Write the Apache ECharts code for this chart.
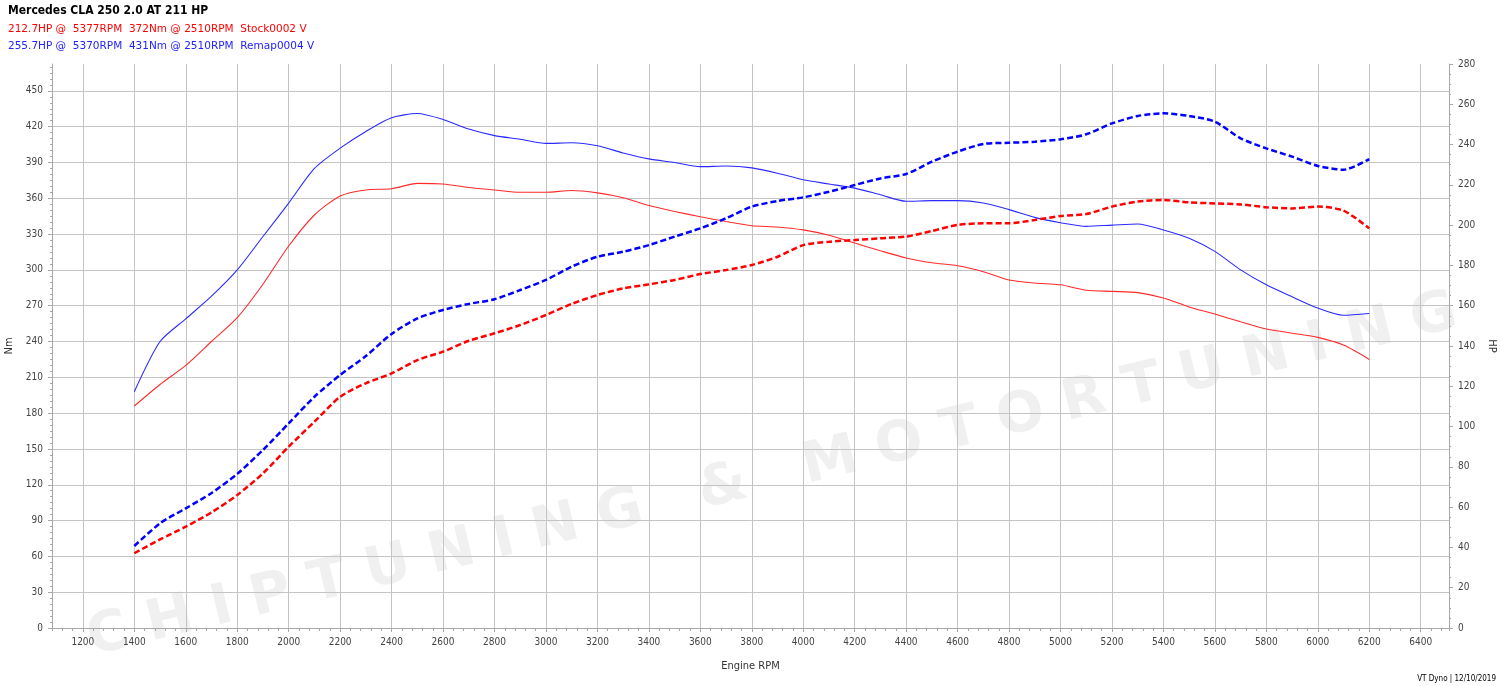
<!DOCTYPE html>
<html>
<head>
<meta charset="utf-8">
<script src="https://cdn.jsdelivr.net/npm/echarts@6/dist/echarts.min.js"></script>
<style>
html,body{margin:0;padding:0;background:#fff;}
#chart{width:1500px;height:686px;}
</style>
</head>
<body>
<div id="chart"></div>
<script>
const rpm = [1400,1500,1600,1700,1800,1900,2000,2100,2200,2300,2400,2500,2600,2700,2800,2900,3000,3100,3200,3300,3400,3500,3600,3700,3800,3900,4000,4100,4200,4300,4400,4500,4600,4700,4800,4900,5000,5100,5200,5300,5400,5500,5600,5700,5800,5900,6000,6100,6200];

const stockTorque = [186,204,220,240,260,288,320,346,362,367,368,372.5,372,369,367,365,365,366.5,364.5,360.5,354,349,344.5,340.5,337,336,333.5,329,322.5,316,310,306,303.5,298.5,291.5,289,287.5,283,282,281,276.5,269,263,256.5,250.5,247,243.5,237,225];

const remapTorque = [198,240,259,278,300,328,356,385,402,416,427.5,431,426,418,412.5,409.5,406,406.5,404,398,393,390,386.5,387,385.5,381,375.5,372,368.5,363,357.5,358,358,356,350.5,344,339.5,336.5,337.5,338.5,333.5,326.5,315.5,300,287.5,277.5,268,262,263.5];

const stockPower = [37.1,44,50.3,57.4,66,76.8,90,102.4,114.8,121.5,126.4,133,137.2,142.6,146.3,150.4,155.4,160.9,165.3,168.6,170.6,172.8,175.7,177.7,180.2,184.3,190.1,191.8,192.6,193.5,194.3,197.1,200.1,200.9,200.9,202.6,204.5,205.5,209.2,211.7,212.5,211.3,210.8,210.3,208.9,208.3,209.2,207.2,198.4];

const remapPower = [40.7,52,59.4,67,76.5,88.4,101.6,114.8,125.6,135,146,153.7,157.9,160.9,163.2,167.8,172.8,179.4,184.3,186.8,190.1,194.3,198.4,203.4,209.2,212,213.8,216.6,219.9,223.2,225.4,231.5,236.5,240.3,240.9,241.4,242.6,245.1,250.5,254.2,255.5,254.2,251.4,243.1,238.1,234,229.4,227.5,232.8];

const rpmTicks = [1200,1400,1600,1800,2000,2200,2400,2600,2800,3000,3200,3400,3600,3800,4000,4200,4400,4600,4800,5000,5200,5400,5600,5800,6000,6200,6400];
const nmTicks = [0,30,60,90,120,150,180,210,240,270,300,330,360,390,420,450];

const titleText = 'Mercedes CLA 250 2.0 AT 211 HP';
const stockText = '212.7HP @  5377RPM  372Nm @ 2510RPM  Stock0002 V';
const remapText = '255.7HP @  5370RPM  431Nm @ 2510RPM  Remap0004 V';
const footerText = 'VT Dyno | 12/10/2019';
const watermarkText = 'C H I P T U N I N G   &   M O T O R T U N I N G';

const RED = '#ff0000';
const BLUE = '#0000ff';
const tickFont = "'DejaVu Sans Condensed','DejaVu Sans',sans-serif";

function pairs(xs, ys){ return xs.map((x,i)=>[x, ys[i]]); }

const chart = echarts.init(document.getElementById('chart'), null, {renderer:'canvas'});
const axisGray = '#a8a8a8';
const gridGray = '#c4c4c4';

chart.setOption({
  backgroundColor:'#ffffff',
  animation:false,
  grid:{left:52, right:51, top:64, bottom:58, containLabel:false, outerBoundsMode:'none'},
  graphic:[
    {type:'text', z:-10, x:95, y:668, rotation:0.236, style:{text:watermarkText, font:"bold 56px 'DejaVu Sans'", fill:'#f0f0f0', textVerticalAlign:'bottom'}},
    {type:'text', left:8, top:5, style:{text:titleText, font:"bold 12px 'DejaVu Sans Condensed','DejaVu Sans'", fill:'#000'}},
    {type:'text', left:8, top:24, style:{text:stockText, font:"10.5px 'DejaVu Sans'", fill:RED}},
    {type:'text', left:8, top:41, style:{text:remapText, font:"10.5px 'DejaVu Sans'", fill:'#2222ff'}},
    {type:'text', right:4, bottom:3, style:{text:footerText, font:"8px 'DejaVu Sans Condensed','DejaVu Sans'", fill:'#000'}}
  ],
  xAxis:[
    {type:'value', min:1080, max:6510, interval:40,
     axisLine:{show:true, lineStyle:{color:axisGray}},
     axisTick:{show:true, length:3, lineStyle:{color:axisGray}},
     axisLabel:{show:false}, splitLine:{show:false}},
    {type:'value', min:1080, max:6510, position:'bottom',
     name:'Engine RPM', nameLocation:'middle', nameGap:33,
     nameTextStyle:{fontFamily:tickFont, fontSize:11, color:'#333'},
     axisLine:{show:false},
     axisTick:{show:true, length:4, customValues:rpmTicks, lineStyle:{color:axisGray}},
     axisLabel:{show:true, customValues:rpmTicks, formatter:(v)=>String(v), fontFamily:tickFont, fontSize:10, color:'#444', margin:9},
     splitLine:{show:true, lineStyle:{color:gridGray, width:1}}}
  ],
  yAxis:[
    {type:'value', min:0, max:472.5, interval:30, position:'left',
     name:'Nm', nameLocation:'middle', nameRotate:90, nameGap:34,
     nameTextStyle:{fontFamily:tickFont, fontSize:11, color:'#333'},
     axisLine:{show:true, lineStyle:{color:axisGray}},
     axisTick:{show:true, length:4, customValues:nmTicks, lineStyle:{color:axisGray}},
     minorTick:{show:true, splitNumber:6, length:2, lineStyle:{color:axisGray}},
     axisLabel:{customValues:nmTicks, formatter:(v)=>String(v), fontFamily:tickFont, fontSize:10, color:'#444', margin:9},
     splitLine:{show:true, lineStyle:{color:gridGray, width:1}}},
    {type:'value', min:0, max:280, interval:20, position:'right',
     name:'HP', nameLocation:'middle', nameRotate:-90, nameGap:34,
     nameTextStyle:{fontFamily:tickFont, fontSize:11, color:'#333'},
     axisLine:{show:true, lineStyle:{color:axisGray}},
     axisTick:{show:true, length:4, lineStyle:{color:axisGray}},
     minorTick:{show:true, splitNumber:4, length:2, lineStyle:{color:axisGray}},
     axisLabel:{fontFamily:tickFont, fontSize:10, color:'#444', margin:9},
     splitLine:{show:false}}
  ],
  series:[
    {name:'Stock Nm', type:'line', xAxisIndex:0, yAxisIndex:0, data:pairs(rpm, stockTorque), showSymbol:false, smooth:0.25,
     lineStyle:{color:'#ff2a2a', width:1.1}, z:3},
    {name:'Remap Nm', type:'line', xAxisIndex:0, yAxisIndex:0, data:pairs(rpm, remapTorque), showSymbol:false, smooth:0.25,
     lineStyle:{color:'#2a2aff', width:1.1}, z:3},
    {name:'Stock HP', type:'line', xAxisIndex:0, yAxisIndex:1, data:pairs(rpm, stockPower), showSymbol:false, smooth:0.25,
     lineStyle:{color:RED, width:2.5, type:[6,3]}, z:4},
    {name:'Remap HP', type:'line', xAxisIndex:0, yAxisIndex:1, data:pairs(rpm, remapPower), showSymbol:false, smooth:0.25,
     lineStyle:{color:BLUE, width:2.5, type:[6,3]}, z:4}
  ]
});
</script>
</body>
</html>
